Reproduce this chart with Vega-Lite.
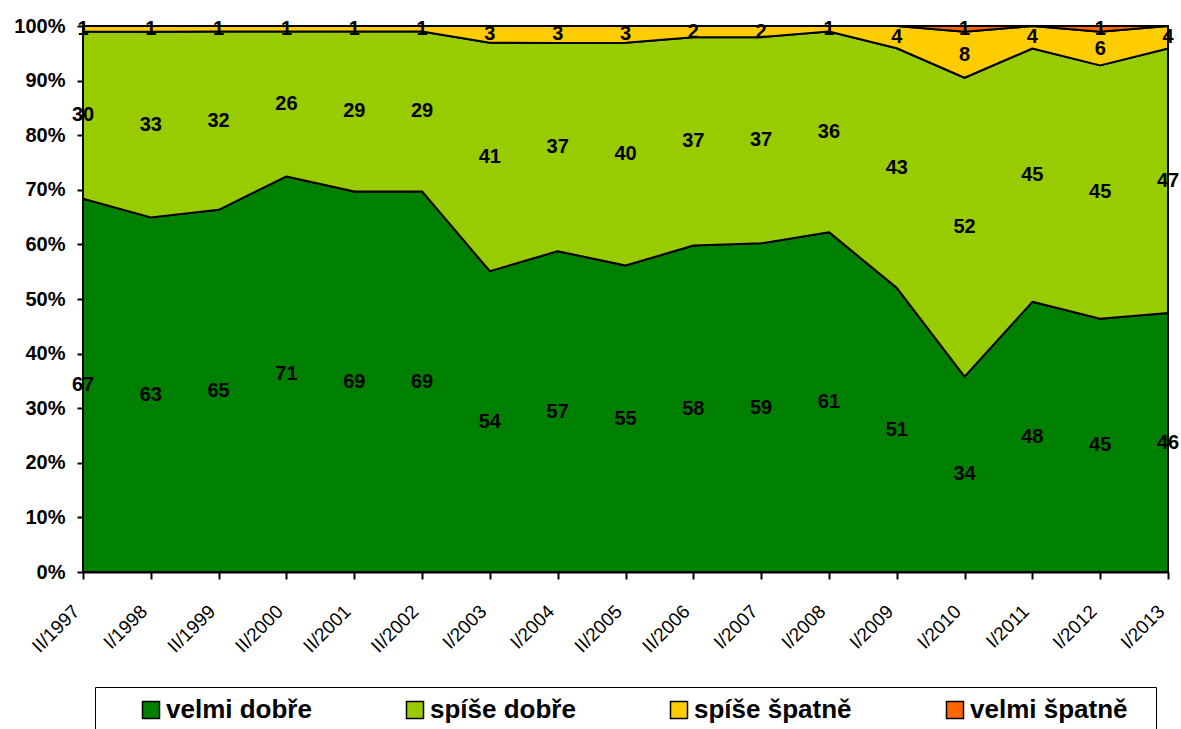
{
  "$schema": "https://vega.github.io/schema/vega-lite/v6.json",
  "width": 1085,
  "height": 546,
  "autosize": "none",
  "padding": {"left": 83, "top": 26, "right": 13, "bottom": 157},
  "background": "white",
  "config": {
    "view": {"stroke": null},
    "font": "Liberation Sans"
  },
  "data": {
    "values": [
      {"obdobi": "II/1997", "velmi dobře": 67, "spíše dobře": 30, "spíše špatně": 1, "velmi špatně": 0},
      {"obdobi": "I/1998", "velmi dobře": 63, "spíše dobře": 33, "spíše špatně": 1, "velmi špatně": 0},
      {"obdobi": "II/1999", "velmi dobře": 65, "spíše dobře": 32, "spíše špatně": 1, "velmi špatně": 0},
      {"obdobi": "II/2000", "velmi dobře": 71, "spíše dobře": 26, "spíše špatně": 1, "velmi špatně": 0},
      {"obdobi": "II/2001", "velmi dobře": 69, "spíše dobře": 29, "spíše špatně": 1, "velmi špatně": 0},
      {"obdobi": "II/2002", "velmi dobře": 69, "spíše dobře": 29, "spíše špatně": 1, "velmi špatně": 0},
      {"obdobi": "I/2003", "velmi dobře": 54, "spíše dobře": 41, "spíše špatně": 3, "velmi špatně": 0},
      {"obdobi": "I/2004", "velmi dobře": 57, "spíše dobře": 37, "spíše špatně": 3, "velmi špatně": 0},
      {"obdobi": "II/2005", "velmi dobře": 55, "spíše dobře": 40, "spíše špatně": 3, "velmi špatně": 0},
      {"obdobi": "II/2006", "velmi dobře": 58, "spíše dobře": 37, "spíše špatně": 2, "velmi špatně": 0},
      {"obdobi": "I/2007", "velmi dobře": 59, "spíše dobře": 37, "spíše špatně": 2, "velmi špatně": 0},
      {"obdobi": "I/2008", "velmi dobře": 61, "spíše dobře": 36, "spíše špatně": 1, "velmi špatně": 0},
      {"obdobi": "I/2009", "velmi dobře": 51, "spíše dobře": 43, "spíše špatně": 4, "velmi špatně": 0},
      {"obdobi": "I/2010", "velmi dobře": 34, "spíše dobře": 52, "spíše špatně": 8, "velmi špatně": 1},
      {"obdobi": "I/2011", "velmi dobře": 48, "spíše dobře": 45, "spíše špatně": 4, "velmi špatně": 0},
      {"obdobi": "I/2012", "velmi dobře": 45, "spíše dobře": 45, "spíše špatně": 6, "velmi špatně": 1},
      {"obdobi": "I/2013", "velmi dobře": 46, "spíše dobře": 47, "spíše špatně": 4, "velmi špatně": 0}
    ]
  },
  "transform": [
    {"fold": ["velmi dobře", "spíše dobře", "spíše špatně", "velmi špatně"], "as": ["kat", "hodnota"]},
    {"calculate": "indexof(['velmi dobře', 'spíše dobře', 'spíše špatně', 'velmi špatně'], datum.kat)", "as": "poradi"},
    {"stack": "hodnota", "groupby": ["obdobi"], "sort": [{"field": "poradi", "order": "ascending"}], "offset": "normalize", "as": ["y0", "y1"]},
    {"calculate": "(datum.y0 + datum.y1) / 2", "as": "ymid"}
  ],
  "layer": [
    {
      "mark": {"type": "area", "stroke": "black", "strokeWidth": 2, "opacity": 1, "strokeJoin": "round"},
      "encoding": {
        "x": {
          "field": "obdobi", "type": "ordinal", "sort": null,
          "scale": {"type": "point", "padding": 0},
          "axis": {
            "title": null, "labelAngle": -45, "labelAlign": "right", "labelBaseline": "middle",
            "labelFontSize": 19, "labelFont": "Liberation Sans", "labelColor": "black",
            "labelPadding": 29, "labelOffset": -7, "tickColor": "black", "tickWidth": 2, "tickSize": 7,
            "domainColor": "black", "domainWidth": 2, "grid": false
          }
        },
        "y": {
          "field": "y1", "type": "quantitative",
          "scale": {"domain": [0, 1], "nice": false},
          "axis": {
            "title": null, "format": ".0%", "values": [0, 0.1, 0.2, 0.3, 0.4, 0.5, 0.6, 0.7, 0.8, 0.9, 1],
            "labelFontSize": 20, "labelFontWeight": "bold", "labelColor": "black",
            "labelPadding": 12, "tickColor": "black", "tickWidth": 2, "tickSize": 6,
            "domainColor": "black", "domainWidth": 2, "grid": false
          }
        },
        "y2": {"field": "y0"},
        "order": {"field": "poradi", "type": "quantitative"},
        "color": {
          "field": "kat", "type": "nominal",
          "scale": {
            "domain": ["velmi dobře", "spíše dobře", "spíše špatně", "velmi špatně"],
            "range": ["#008000", "#99CC00", "#FFCC00", "#FF6600"]
          },
          "legend": {
            "title": " ", "titleOrient": "left", "titleFontSize": 10, "titlePadding": 33,
            "orient": "none", "legendX": 12, "legendY": 661,
            "direction": "horizontal", "columns": 4,
            "columnPadding": 90, "padding": 10,
            "strokeColor": "black", "fillColor": "white",
            "symbolType": "square", "symbolSize": 289, "symbolStrokeColor": "black", "symbolStrokeWidth": 1.5,
            "symbolOpacity": 1,
            "labelFontSize": 26, "labelFontWeight": "bold", "labelColor": "black", "labelOffset": 2,
            "labelLimit": 400,
            "labelExpr": "datum.label == 'velmi špatně' ? datum.label + '\u2002\u2009\u200b' : datum.label"
          }
        }
      }
    },
    {
      "transform": [{"filter": "datum.hodnota > 0"}],
      "mark": {"type": "text", "fontSize": 20, "fontWeight": "bold", "color": "black", "baseline": "middle", "align": "center"},
      "encoding": {
        "x": {"field": "obdobi", "type": "ordinal", "sort": null},
        "y": {"field": "ymid", "type": "quantitative"},
        "text": {"field": "hodnota", "type": "quantitative"}
      }
    }
  ]
}
